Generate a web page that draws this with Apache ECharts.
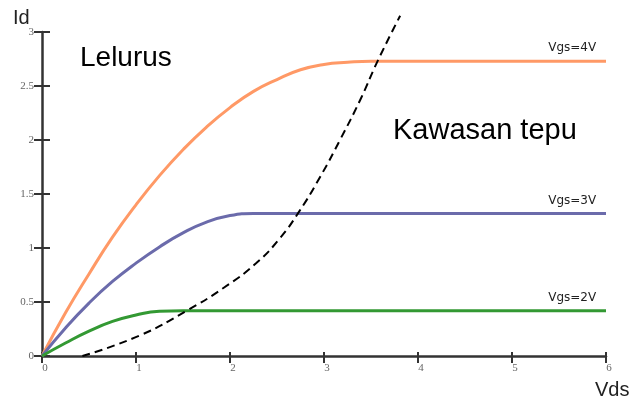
<!DOCTYPE html>
<html>
<head>
<meta charset="utf-8">
<script src="https://cdn.jsdelivr.net/npm/echarts@6/dist/echarts.min.js"></script>
<style>
html,body{margin:0;padding:0;background:#fff;}
#c{width:637px;height:405px;}
</style>
</head>
<body>
<div id="c"></div>
<script>
// Vds values (x) and Id values (y)
const vdsSteps = [0, 0.25, 0.5, 0.75, 1, 1.25, 1.5, 1.75, 2, 2.25, 2.5, 2.75, 3, 3.25, 3.5, 4, 5, 6];
const idVgs4 = [0, 0.40, 0.76, 1.10, 1.40, 1.67, 1.91, 2.12, 2.30, 2.45, 2.56, 2.65, 2.70, 2.72, 2.73, 2.73, 2.73, 2.73];
const idVgs3 = [0, 0.26, 0.49, 0.69, 0.86, 1.01, 1.14, 1.24, 1.30, 1.32, 1.32, 1.32, 1.32, 1.32, 1.32, 1.32, 1.32, 1.32];
const idVgs2 = [0, 0.12, 0.23, 0.32, 0.38, 0.415, 0.42, 0.42, 0.42, 0.42, 0.42, 0.42, 0.42, 0.42, 0.42, 0.42, 0.42, 0.42];
// boundary (dashed) curve: [Vds, Id]
const boundaryVds = [0.43, 1.04, 1.54, 1.93, 2.28, 2.53, 2.73, 2.96, 3.17, 3.39, 3.57, 3.81];
const boundaryId  = [0, 0.19, 0.42, 0.63, 0.86, 1.09, 1.33, 1.66, 2.00, 2.38, 2.73, 3.15];
const seriesNames = ['Vgs=4V', 'Vgs=3V', 'Vgs=2V'];
const satValues = [2.73, 1.32, 0.42];
const labelVds = 5.64;
const xTicks = [0, 1, 2, 3, 4, 5, 6];
const yTicks = [0, 0.5, 1, 1.5, 2, 2.5, 3];
const axisTitles = ['Vds', 'Id'];
const regionTexts = ['Lelurus', 'Kawasan tepu'];

const colors = ['#FF9966', '#6B6BAB', '#339933'];
const zip = (xs, ys) => xs.map((x, i) => [x, ys[i]]);
const curves = [idVgs4, idVgs3, idVgs2];

const chart = echarts.init(document.getElementById('c'), null, {renderer: 'canvas'});
const tickLabelStyle = {fontFamily: 'Liberation Serif', fontSize: 11, color: '#666'};

const series = curves.map((vals, i) => ({
  type: 'line',
  name: seriesNames[i],
  data: zip(vdsSteps, vals),
  smooth: 0.5,
  symbol: 'none',
  lineStyle: {color: colors[i], width: 3},
  markPoint: {
    symbol: 'circle', symbolSize: 0, silent: true,
    data: [{coord: [labelVds, satValues[i]], value: seriesNames[i]}],
    label: {show: true, position: 'top', distance: 7, formatter: seriesNames[i],
      fontFamily: 'DejaVu Sans', fontSize: 12, color: '#222'}
  }
}));
series.push({
  type: 'line',
  name: 'boundary',
  data: zip(boundaryVds, boundaryId),
  smooth: 0.5,
  symbol: 'none',
  clip: false,
  lineStyle: {color: '#000', width: 2, type: [8, 5]}
});

const baseX = {type: 'value', min: 0, max: 6, interval: 1, splitLine: {show: false}};
const baseY = {type: 'value', min: 0, max: 3, interval: 0.5, splitLine: {show: false}};

chart.setOption({
  animation: false,
  backgroundColor: '#fff',
  grid: {left: 42, right: 31, top: 32, bottom: 49},
  xAxis: [
    Object.assign({}, baseX, {
      position: 'bottom',
      axisLine: {show: true, lineStyle: {color: '#333', width: 2.5}},
      axisTick: {show: true, length: 7, lineStyle: {color: '#333', width: 2}},
      axisLabel: Object.assign({margin: 7, padding: [0, 0, 0, 6], formatter: v => xTicks.includes(v) ? String(v) : ''}, tickLabelStyle)
    }),
    Object.assign({}, baseX, {
      position: 'bottom', offset: 0,
      axisLine: {show: false},
      axisTick: {show: true, inside: true, length: 4, lineStyle: {color: '#333', width: 2}},
      axisLabel: {show: false}
    })
  ],
  yAxis: [
    Object.assign({}, baseY, {
      position: 'left',
      axisLine: {show: true, lineStyle: {color: '#333', width: 2.5}},
      axisTick: {show: true, length: 8, lineStyle: {color: '#333', width: 2}},
      axisLabel: Object.assign({margin: 8, padding: [7, 0, 0, 0], formatter: v => yTicks.includes(v) ? String(v) : ''}, tickLabelStyle)
    }),
    Object.assign({}, baseY, {
      position: 'left', offset: 0,
      axisLine: {show: false},
      axisTick: {show: true, inside: true, length: 8, lineStyle: {color: '#333', width: 2}},
      axisLabel: {show: false}
    })
  ],
  graphic: [
    {type: 'text', left: 13, top: 8, style: {text: axisTitles[1], font: '20px "Liberation Sans"', fill: '#222'}},
    {type: 'text', left: 595, top: 380, style: {text: axisTitles[0], font: '20px "Liberation Sans"', fill: '#222'}},
    {type: 'text', left: 80, top: 44, style: {text: regionTexts[0], font: '28px "Liberation Sans"', fill: '#000'}},
    {type: 'text', left: 393, top: 116, style: {text: regionTexts[1], font: '29px "Liberation Sans"', fill: '#000'}}
  ],
  series: series
});
</script>
</body>
</html>
